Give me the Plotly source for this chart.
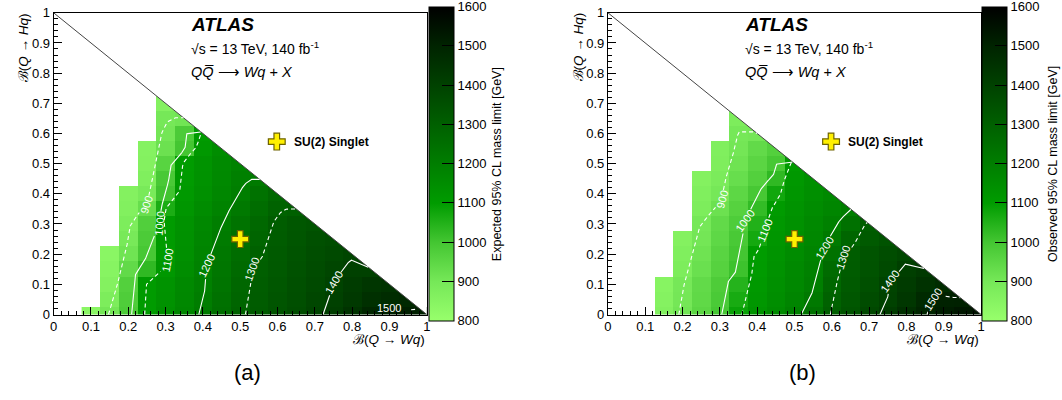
import math
import plotly.graph_objects as go

# ---------------- data ----------------
X_CENTERS = [0.10, 0.15, 0.20, 0.25, 0.30, 0.35, 0.40, 0.45, 0.50, 0.55,
             0.60, 0.65, 0.70, 0.75, 0.80, 0.85, 0.90, 0.95, 1.00]
Y_CENTERS = [0.00, 0.05, 0.10, 0.15, 0.20, 0.25, 0.30, 0.35, 0.40, 0.45,
             0.50, 0.55, 0.60, 0.65, 0.70]

# Expected limits, per column (values from y=0 upwards)
exp_x10 = [840]
exp_x15 = [905, 880, 860, 850, 840]
exp_x20 = [985, 978, 970, 940, 913, 895, 880, 865, 860]
exp_x25 = [1105, 1104, 1103, 1030, 995, 985, 975, 930, 890, 870, 860, 855]
exp_x30 = [1140, 1135, 1130, 1115, 1100, 1103, 1105, 1060, 1005, 990, 960, 920, 905, 900, 860]
exp_x35 = [1173, 1168, 1163, 1150, 1140, 1137, 1135, 1120, 1110, 1105, 1100, 1000, 985, 910]
exp_x40 = [1209, 1202, 1194, 1188, 1180, 1173, 1167, 1155, 1141, 1135, 1130, 1115, 1105]
exp_x45 = [1249, 1242, 1234, 1226, 1219, 1210, 1199, 1185, 1170, 1165, 1160, 1150]
exp_x50 = [1289, 1283, 1276, 1266, 1258, 1248, 1237, 1218, 1200, 1195, 1185]
exp_x55 = [1317, 1314, 1310, 1303, 1296, 1285, 1274, 1256, 1240, 1215]
exp_x60 = [1341, 1336, 1331, 1325, 1320, 1315, 1310, 1290, 1275]
exp_x65 = [1365, 1358, 1352, 1347, 1340, 1335, 1330, 1300]
exp_x70 = [1389, 1382, 1374, 1368, 1360, 1352, 1340]
exp_x75 = [1415, 1405, 1396, 1388, 1375, 1365]
exp_x80 = [1450, 1430, 1420, 1402, 1390]
exp_x85 = [1490, 1460, 1440, 1405]
exp_x90 = [1505, 1472, 1450]
exp_x95 = [1510, 1482]
exp_x100 = [1505]

# Observed limits, per column (values from y=0 upwards)
obs_x10 = []
obs_x15 = [864, 855, 850]
obs_x20 = [908, 903, 900, 880, 870, 860]
obs_x25 = [952, 945, 940, 925, 915, 905, 900, 880, 870, 860]
obs_x30 = [996, 988, 981, 965, 958, 948, 940, 920, 900, 885, 875, 870]
obs_x35 = [1085, 1065, 1045, 1010, 1000, 990, 980, 965, 950, 930, 915, 905, 900, 880]
obs_x40 = [1126, 1118, 1110, 1105, 1100, 1070, 1050, 1025, 995, 970, 955, 940, 905]
obs_x45 = [1157, 1148, 1140, 1135, 1128, 1120, 1112, 1105, 1075, 1030, 995, 970]
obs_x50 = [1189, 1178, 1168, 1162, 1154, 1145, 1138, 1130, 1120, 1115, 1105]
obs_x55 = [1241, 1218, 1197, 1190, 1180, 1170, 1165, 1155, 1145, 1140]
obs_x60 = [1303, 1293, 1278, 1262, 1240, 1212, 1190, 1175, 1165]
obs_x65 = [1341, 1330, 1320, 1315, 1310, 1280, 1245, 1200]
obs_x70 = [1380, 1366, 1355, 1345, 1340, 1320, 1305]
obs_x75 = [1419, 1401, 1395, 1375, 1365, 1345]
obs_x80 = [1459, 1438, 1425, 1410, 1385]
obs_x85 = [1498, 1480, 1455, 1430]
obs_x90 = [1520, 1505, 1475]
obs_x95 = [1535, 1508]
obs_x100 = [1545]

# Contour lines (x, y); label position and angle
CONTOUR_LEVELS = [900, 1000, 1100, 1200, 1300, 1400, 1500]

exp_c900_x = [0.147, 0.160, 0.173, 0.195, 0.204, 0.222, 0.249, 0.262, 0.275, 0.289, 0.302, 0.324, 0.348]
exp_c900_y = [0.000, 0.050, 0.110, 0.216, 0.291, 0.328, 0.362, 0.429, 0.514, 0.599, 0.636, 0.652, 0.652]
exp_c1000_x = [0.209, 0.218, 0.245, 0.256, 0.270, 0.284, 0.288, 0.297, 0.308, 0.313, 0.333, 0.352, 0.357, 0.372, 0.394]
exp_c1000_y = [0.000, 0.130, 0.180, 0.220, 0.260, 0.300, 0.350, 0.397, 0.440, 0.493, 0.519, 0.551, 0.599, 0.602, 0.605]
exp_c1100_x = [0.244, 0.249, 0.262, 0.285, 0.306, 0.300, 0.295, 0.300, 0.324, 0.338, 0.342, 0.347, 0.360, 0.378, 0.388, 0.393, 0.397]
exp_c1100_y = [0.000, 0.100, 0.115, 0.140, 0.180, 0.250, 0.300, 0.350, 0.387, 0.410, 0.470, 0.500, 0.525, 0.546, 0.570, 0.598, 0.603]
exp_c1200_x = [0.389, 0.404, 0.410, 0.435, 0.453, 0.470, 0.484, 0.510, 0.528, 0.546, 0.552]
exp_c1200_y = [0.000, 0.068, 0.160, 0.248, 0.301, 0.344, 0.376, 0.429, 0.448, 0.448, 0.448]
exp_c1300_x = [0.514, 0.527, 0.532, 0.559, 0.572, 0.590, 0.603, 0.620, 0.650]
exp_c1300_y = [0.000, 0.084, 0.150, 0.190, 0.243, 0.307, 0.333, 0.349, 0.350]
exp_c1400_x = [0.722, 0.735, 0.750, 0.771, 0.785, 0.798, 0.820, 0.843]
exp_c1400_y = [0.000, 0.045, 0.105, 0.142, 0.168, 0.180, 0.168, 0.157]
exp_c1500_x = [0.958, 0.976]
exp_c1500_y = [0.016, 0.018]
exp_label_x = [0.249, 0.284, 0.306, 0.410, 0.532, 0.750, 0.900]
exp_label_y = [0.362, 0.300, 0.180, 0.160, 0.150, 0.105, 0.020]
exp_label_angle = [-72, -85, -80, -65, -70, -60, 0]

obs_c900_x = [0.190, 0.199, 0.212, 0.230, 0.243, 0.261, 0.285, 0.305, 0.314, 0.328, 0.336, 0.345, 0.352, 0.390, 0.400]
obs_c900_y = [0.000, 0.073, 0.137, 0.222, 0.285, 0.317, 0.350, 0.381, 0.445, 0.498, 0.535, 0.588, 0.605, 0.607, 0.600]
obs_c1000_x = [0.305, 0.314, 0.323, 0.341, 0.350, 0.359, 0.367, 0.385, 0.403, 0.421, 0.443, 0.452, 0.474, 0.494]
obs_c1000_y = [0.000, 0.057, 0.110, 0.137, 0.190, 0.243, 0.310, 0.355, 0.403, 0.434, 0.461, 0.498, 0.503, 0.505]
obs_c1100_x = [0.359, 0.372, 0.385, 0.390, 0.403, 0.421, 0.438, 0.461, 0.469, 0.483, 0.492]
obs_c1100_y = [0.000, 0.073, 0.126, 0.190, 0.211, 0.280, 0.349, 0.392, 0.434, 0.477, 0.506]
obs_c1200_x = [0.518, 0.545, 0.562, 0.580, 0.607, 0.624, 0.638, 0.651]
obs_c1200_y = [0.000, 0.062, 0.147, 0.222, 0.285, 0.317, 0.333, 0.348]
obs_c1300_x = [0.596, 0.607, 0.631, 0.660, 0.673, 0.687, 0.695]
obs_c1300_y = [0.000, 0.073, 0.190, 0.232, 0.264, 0.296, 0.305]
obs_c1400_x = [0.729, 0.749, 0.757, 0.784, 0.797, 0.824, 0.847]
obs_c1400_y = [0.000, 0.052, 0.110, 0.147, 0.167, 0.158, 0.153]
obs_c1500_x = [0.855, 0.870, 0.899, 0.917, 0.944]
obs_c1500_y = [0.000, 0.049, 0.062, 0.057, 0.056]
obs_label_x = [0.305, 0.367, 0.421, 0.580, 0.631, 0.757, 0.870]
obs_label_y = [0.381, 0.310, 0.280, 0.222, 0.190, 0.110, 0.049]
obs_label_angle = [-75, -55, -68, -58, -72, -55, -58]

SIGNAL_X = [0.5]
SIGNAL_Y = [0.25]

# ---------------- helpers ----------------
W, H = 1062, 400
PX_X, PX_Y = 376.0, 313.5  # pixels per unit on the axes

COLORSCALE = [
    [0.000, "rgb(152,255,108)"],
    [0.125, "rgb(118,232,88)"],
    [0.250, "rgb(68,198,50)"],
    [0.375, "rgb(0,156,0)"],
    [0.500, "rgb(0,126,0)"],
    [0.625, "rgb(0,96,0)"],
    [0.750, "rgb(0,66,0)"],
    [0.875, "rgb(0,36,0)"],
    [1.000, "rgb(0,0,0)"],
]
FONT = "Liberation Sans, Arial, Helvetica, sans-serif"


def build_z(columns):
    z = []
    for j in range(len(Y_CENTERS)):
        row = []
        for col in columns:
            row.append(col[j] if j < len(col) else None)
        z.append(row)
    return z


def gapped(xs, ys, lx, ly, r):
    ox, oy = [], []
    for i in range(len(xs) - 1):
        x0, y0, x1, y1 = xs[i], ys[i], xs[i + 1], ys[i + 1]
        n = max(1, int(math.hypot((x1 - x0) * PX_X, (y1 - y0) * PX_Y)))
        for k in range(n):
            t = k / n
            x = x0 + t * (x1 - x0)
            y = y0 + t * (y1 - y0)
            if math.hypot((x - lx) * PX_X, (y - ly) * PX_Y) < r:
                ox.append(None); oy.append(None)
            else:
                ox.append(x); oy.append(y)
    if math.hypot((xs[-1] - lx) * PX_X, (ys[-1] - ly) * PX_Y) >= r:
        ox.append(xs[-1]); oy.append(ys[-1])
    return ox, oy


exp_columns = [exp_x10, exp_x15, exp_x20, exp_x25, exp_x30, exp_x35, exp_x40, exp_x45,
               exp_x50, exp_x55, exp_x60, exp_x65, exp_x70, exp_x75, exp_x80, exp_x85,
               exp_x90, exp_x95, exp_x100]
obs_columns = [obs_x10, obs_x15, obs_x20, obs_x25, obs_x30, obs_x35, obs_x40, obs_x45,
               obs_x50, obs_x55, obs_x60, obs_x65, obs_x70, obs_x75, obs_x80, obs_x85,
               obs_x90, obs_x95, obs_x100]
exp_contours = [(exp_c900_x, exp_c900_y), (exp_c1000_x, exp_c1000_y), (exp_c1100_x, exp_c1100_y),
                (exp_c1200_x, exp_c1200_y), (exp_c1300_x, exp_c1300_y), (exp_c1400_x, exp_c1400_y),
                (exp_c1500_x, exp_c1500_y)]
obs_contours = [(obs_c900_x, obs_c900_y), (obs_c1000_x, obs_c1000_y), (obs_c1100_x, obs_c1100_y),
                (obs_c1200_x, obs_c1200_y), (obs_c1300_x, obs_c1300_y), (obs_c1400_x, obs_c1400_y),
                (obs_c1500_x, obs_c1500_y)]

panels = [
    dict(cols=exp_columns, contours=exp_contours, lx=exp_label_x, ly=exp_label_y,
         la=exp_label_angle, x0=50.0, cbx=428.0, title="Expected 95% CL mass limit [GeV]",
         cbtitle_x=497.0, tag="(a)", ax="", cap_x=245.0),
    dict(cols=obs_columns, contours=obs_contours, lx=obs_label_x, ly=obs_label_y,
         la=obs_label_angle, x0=608.5, cbx=985.5, title="Observed 95% CL mass limit [GeV]",
         cbtitle_x=1057.0, tag="(b)", ax="2", cap_x=805.0),
]

fig = go.Figure()
annotations = []
layout_axes = {}
Y_TOP, Y_BOT = 6.0, 319.5

for p in panels:
    xa, ya = "x" + p["ax"], "y" + p["ax"]
    # heatmap
    fig.add_trace(go.Heatmap(
        x=X_CENTERS, y=Y_CENTERS, z=build_z(p["cols"]), zmin=800, zmax=1600,
        colorscale=COLORSCALE, xaxis=xa, yaxis=ya, hoverinfo="skip",
        colorbar=dict(
            x=p["cbx"] / W, xanchor="left", xpad=0, ypad=0,
            y=1 - (Y_TOP + Y_BOT) / 2 / H, yanchor="middle",
            len=Y_BOT - Y_TOP, lenmode="pixels", thickness=25, thicknessmode="pixels",
            outlinecolor="black", outlinewidth=1,
            tick0=800, dtick=100, ticks="inside", ticklen=12, tickcolor="black",
            ticklabeloverflow="allow",
            tickfont=dict(family=FONT, size=13, color="black"),
        ),
    ))
    # mask for the region x + y > 1
    fig.add_trace(go.Scatter(x=[0, 1, 1.2, 1.2, 0, 0], y=[1, 0, 0, 1.2, 1.2, 1],
                             mode="lines", fill="toself", fillcolor="white",
                             line=dict(width=0), xaxis=xa, yaxis=ya,
                             hoverinfo="skip", showlegend=False))
    fig.add_trace(go.Scatter(x=[0, 1], y=[1, 0], mode="lines",
                             line=dict(color="#444444", width=1), xaxis=xa, yaxis=ya,
                             hoverinfo="skip", showlegend=False))
    # contour lines
    for i, (cx, cy) in enumerate(p["contours"]):
        level = CONTOUR_LEVELS[i]
        r = 13 if level >= 1000 else 10
        gx, gy = gapped(cx, cy, p["lx"][i], p["ly"][i], r)
        dash = "solid" if level % 200 == 0 else "4px,3px"
        fig.add_trace(go.Scatter(x=gx, y=gy, mode="lines", connectgaps=False,
                                 line=dict(color="white", width=1.1, dash=dash),
                                 xaxis=xa, yaxis=ya, hoverinfo="skip", showlegend=False))
        annotations.append(dict(x=p["lx"][i], y=p["ly"][i], xref=xa, yref=ya,
                                text=str(level), showarrow=False, textangle=p["la"][i],
                                font=dict(family=FONT, size=11, color="white")))
    # signal point and legend marker
    fig.add_trace(go.Scatter(x=SIGNAL_X + [0.598], y=SIGNAL_Y + [0.573], mode="markers",
                             marker=dict(symbol="cross", size=14, color="#FFF000",
                                         line=dict(color="#6e6300", width=1.2)),
                             xaxis=xa, yaxis=ya, hoverinfo="skip", showlegend=False))
    annotations.append(dict(x=0.638, y=0.573, xref=xa, yref=ya, xanchor="left",
                            yanchor="middle", text="<b>SU(2) Singlet</b>", showarrow=False,
                            font=dict(family=FONT, size=12, color="black")))

    x0 = p["x0"]
    tx = x0 + 136
    annotations += [
        dict(x=tx / W, y=1 - 18 / H, xref="paper", yref="paper", xanchor="left",
             yanchor="middle", showarrow=False, text="<b><i>ATLAS</i></b>",
             font=dict(family=FONT, size=19, color="black")),
        dict(x=tx / W, y=1 - 43 / H, xref="paper", yref="paper", xanchor="left",
             yanchor="middle", showarrow=False, text="√s = 13 TeV, 140 fb<sup>-1</sup>",
             font=dict(family=FONT, size=14, color="black")),
        dict(x=tx / W, y=1 - 68 / H, xref="paper", yref="paper", xanchor="left",
             yanchor="middle", showarrow=False,
             text="<i>Q</i><i>Q\u0305</i> \u27F6 <i>Wq</i> + <i>X</i>",
             font=dict(family=FONT, size=14.5, color="black")),
        dict(x=(x0 + 376) / W, y=1 - 345 / H, xref="paper", yref="paper", xanchor="right",
             yanchor="middle", showarrow=False, text="ℬ(<i>Q</i> → <i>Wq</i>)",
             font=dict(family=FONT, size=13.5, color="black")),
        dict(x=(x0 - 30) / W, y=1 - 4 / H, xref="paper", yref="paper", xanchor="center",
             yanchor="top", showarrow=False, textangle=-90, text="ℬ(<i>Q</i> → <i>Hq</i>)",
             font=dict(family=FONT, size=13.5, color="black")),
        dict(x=p["cbtitle_x"] / W, y=1 - 163 / H, xref="paper", yref="paper",
             xanchor="center", yanchor="middle", showarrow=False, textangle=-90,
             text=p["title"], font=dict(family=FONT, size=12.5, color="black")),
        dict(x=p["cap_x"] / W, y=1 - 380 / H, xref="paper", yref="paper",
             xanchor="center", yanchor="middle", showarrow=False, text=p["tag"],
             font=dict(family=FONT, size=22, color="black")),
    ]

    tickvals = [0, 0.1, 0.2, 0.3, 0.4, 0.5, 0.6, 0.7, 0.8, 0.9, 1.0]
    ticktext = ["0", "0.1", "0.2", "0.3", "0.4", "0.5", "0.6", "0.7", "0.8", "0.9", "1"]
    common = dict(range=[0, 1], tickvals=tickvals, ticktext=ticktext, ticks="inside",
                  ticklen=8, tickwidth=1, tickcolor="black", showline=True,
                  linecolor="black", linewidth=1, mirror=True, showgrid=False,
                  zeroline=False, fixedrange=True, ticklabeloverflow="allow",
                  tickfont=dict(family=FONT, size=13, color="black"),
                  minor=dict(tick0=0, dtick=0.02, ticks="inside", ticklen=4,
                             tickcolor="black", showgrid=False))
    layout_axes["xaxis" + p["ax"]] = dict(domain=[x0 / W, (x0 + 376) / W],
                                          anchor="y" + p["ax"], **common)
    layout_axes["yaxis" + p["ax"]] = dict(domain=[1 - Y_BOT / H, 1 - Y_TOP / H],
                                          anchor="x" + p["ax"], **common)

fig.update_layout(
    width=W, height=H, margin=dict(l=0, r=0, t=0, b=0),
    paper_bgcolor="white", plot_bgcolor="white", showlegend=False,
    annotations=annotations, **layout_axes,
)

fig.write_html("out.html")
